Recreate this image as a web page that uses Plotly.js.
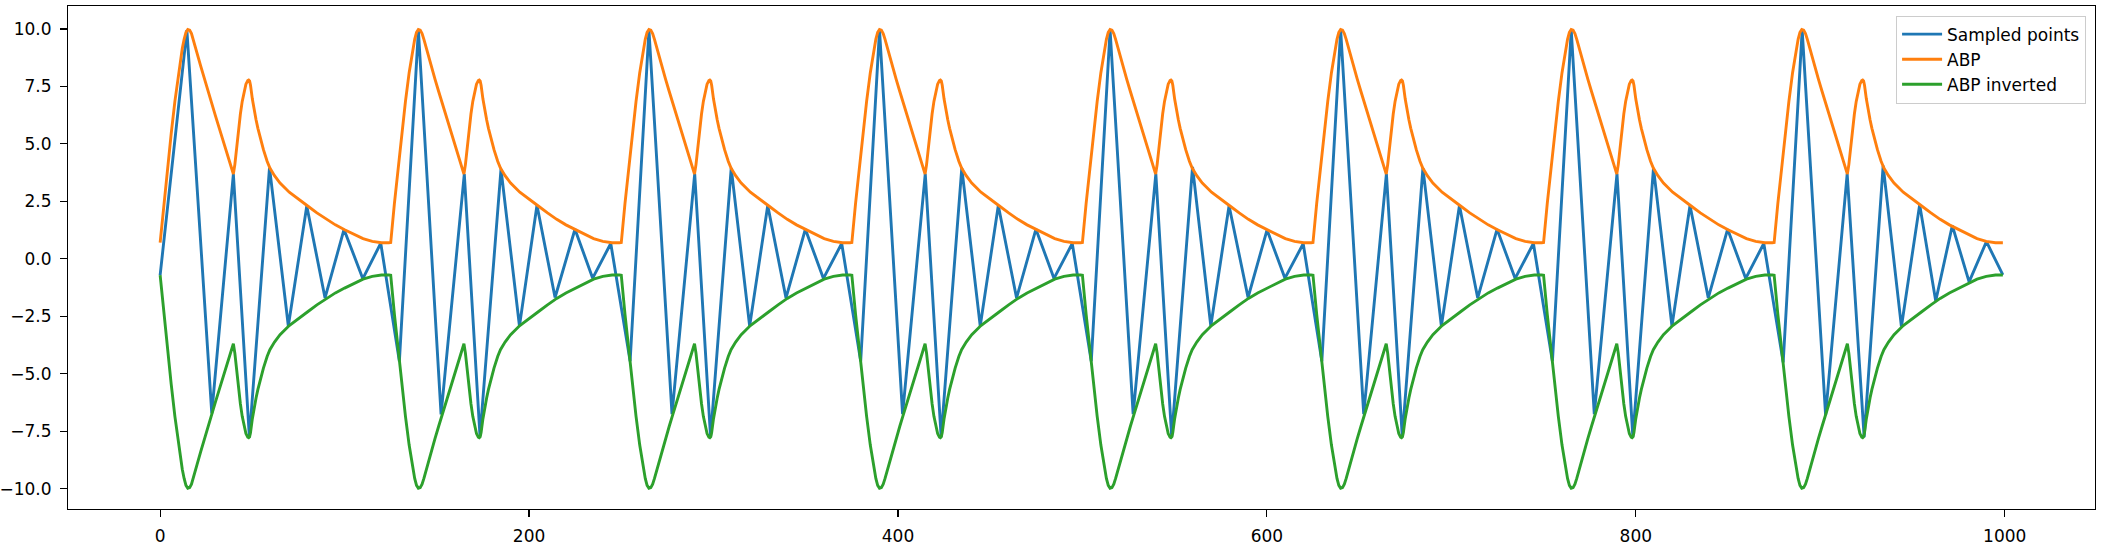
<!DOCTYPE html>
<html>
<head>
<meta charset="utf-8">
<script src="https://cdn.plot.ly/plotly-3.0.1.min.js"></script>
<style>html,body{margin:0;padding:0;background:#fff}</style>
</head>
<body>
<div id="chart" style="width:2104px;height:550px"></div>
<script>
// one heartbeat of the ABP curve: offset inside the beat -> value
var beatOffsets = [0, 2, 4, 6, 8, 10, 11, 12, 13, 14, 15, 16, 17, 18, 19, 20, 22, 24, 26, 28, 30, 32, 34, 36, 38, 39.7,
  40.5, 41.5, 42.5, 43.5, 44.5, 45.5, 46.5, 47.5, 48, 48.5, 49, 50, 51, 52, 53, 54, 56, 58, 59.5,
  62, 65, 70, 75, 80, 85, 90, 95, 100, 105, 110, 115, 120, 124];
var abpBeat = [0.71, 2.4, 3.95, 5.45, 6.85, 8.1, 8.65, 9.15, 9.55, 9.85, 9.98, 9.95, 9.8, 9.55, 9.25, 8.95, 8.38, 7.82, 7.28, 6.75, 6.22, 5.7, 5.17, 4.65, 4.12, 3.69,
  4.1, 4.9, 5.7, 6.3, 6.85, 7.3, 7.6, 7.76, 7.78, 7.74, 7.55, 6.95, 6.45, 6.05, 5.68, 5.35, 4.75, 4.25, 3.95,
  3.62, 3.3, 2.9, 2.58, 2.3, 2.0, 1.72, 1.48, 1.27, 1.06, 0.88, 0.76, 0.70, 0.70];
var abpInvBeat = [-0.71, -2.4, -3.95, -5.45, -6.85, -8.1, -8.65, -9.15, -9.55, -9.85, -9.98, -9.95, -9.8, -9.55, -9.25, -8.95, -8.38, -7.82, -7.28, -6.75, -6.22, -5.7, -5.17, -4.65, -4.12, -3.69,
  -4.1, -4.9, -5.7, -6.3, -6.85, -7.3, -7.6, -7.76, -7.78, -7.74, -7.55, -6.95, -6.45, -6.05, -5.68, -5.35, -4.75, -4.25, -3.95,
  -3.62, -3.3, -2.9, -2.58, -2.3, -2.0, -1.72, -1.48, -1.27, -1.06, -0.88, -0.76, -0.70, -0.70];
// the picture shows the same beat 8 times, starting every 125 samples
var beatStarts = [0, 125, 250, 375, 500, 625, 750, 875];

// sampled points (zigzag between ABP and inverted ABP)
var sampledX = [
  0, 14.5, 28, 39.7, 48.4, 59.3, 69.5, 79.5, 89.4, 99.7, 109.9, 119.6,
  129.7, 140, 152.3, 164.9, 173.4, 184.8, 194.8, 204.3, 214.1, 224.9, 234.5, 244.3,
  254.8, 265, 277.5, 289.8, 298.4, 309.6, 319.6, 329.4, 339.3, 349.8, 359.6, 369.5,
  379.8, 390, 402.5, 414.8, 423.4, 434.6, 444.6, 454.4, 464.3, 474.8, 484.6, 494.5,
  504.8, 515, 527.5, 539.8, 548.4, 559.7, 569.6, 579.5, 589.8, 600.1, 609.8, 619.7,
  629.8, 640, 652.5, 664.8, 673.4, 684.6, 694.6, 704.4, 714.3, 724.8, 734.6, 744.5,
  754.8, 765, 777.5, 789.8, 798.4, 809.6, 819.6, 829.4, 839.3, 849.8, 859.6, 869.4,
  879.9, 890.2, 902.9, 914.6, 923.8, 934.1, 944, 953.9, 962.6, 971.6, 980.7, 990.1, 999
];
var sampledY = [
  -0.71, 9.95, -6.72, 3.69, -7.77, 3.97, -2.92, 2.3, -1.7, 1.28, -0.86, 0.68,
  -4.45, 9.95, -6.76, 3.69, -7.7, 3.9, -2.92, 2.33, -1.68, 1.29, -0.84, 0.67,
  -4.45, 9.95, -6.75, 3.7, -7.74, 3.95, -2.92, 2.32, -1.7, 1.29, -0.85, 0.67,
  -4.45, 9.95, -6.75, 3.7, -7.74, 3.95, -2.92, 2.32, -1.7, 1.29, -0.85, 0.67,
  -4.45, 9.95, -6.75, 3.7, -7.74, 4.0, -2.92, 2.31, -1.68, 1.26, -0.84, 0.66,
  -4.45, 9.95, -6.75, 3.7, -7.74, 3.95, -2.92, 2.32, -1.7, 1.29, -0.85, 0.67,
  -4.45, 9.95, -6.75, 3.7, -7.74, 3.95, -2.92, 2.32, -1.7, 1.29, -0.85, 0.67,
  -4.5, 9.95, -6.8, 3.7, -7.75, 4.05, -2.95, 2.36, -1.83, 1.45, -1.0, 0.75, -0.70
];

var xTickVals = [0, 200, 400, 600, 800, 1000];
var xTickText = ['0', '200', '400', '600', '800', '1000'];
var yTickVals = [-10, -7.5, -5, -2.5, 0, 2.5, 5, 7.5, 10];
var yTickText = ['\u221210.0', '\u22127.5', '\u22125.0', '\u22122.5', '0.0', '2.5', '5.0', '7.5', '10.0'];

// lay the beat out along the time axis
var abpX = [], abpY = [], invY = [];
beatStarts.forEach(function (s) {
  beatOffsets.forEach(function (o, i) {
    abpX.push(s + o);
    abpY.push(abpBeat[i]);
    invY.push(abpInvBeat[i]);
  });
});

var sampled = {
  x: sampledX, y: sampledY, name: 'Sampled points', type: 'scatter', mode: 'lines',
  line: {color: '#1f77b4', width: 2.9}
};
var abp = {
  x: abpX, y: abpY, name: 'ABP', type: 'scatter', mode: 'lines',
  line: {color: '#ff7f0e', width: 2.9}
};
var abpInv = {
  x: abpX, y: invY, name: 'ABP inverted', type: 'scatter', mode: 'lines',
  line: {color: '#2ca02c', width: 2.9}
};

var axisStyle = {
  ticks: 'outside', ticklen: 7, tickwidth: 1.1, tickcolor: '#000',
  showline: true, linecolor: '#000', linewidth: 1.1, mirror: true,
  showgrid: false, zeroline: false
};

var layout = {
  width: 2104,
  height: 550,
  margin: {l: 68, r: 9, t: 6, b: 41},
  paper_bgcolor: '#fff',
  plot_bgcolor: '#fff',
  font: {family: 'DejaVu Sans', size: 17, color: '#000'},
  showlegend: true,
  legend: {
    x: 0.9956, y: 0.981, xanchor: 'right', yanchor: 'top',
    bgcolor: 'rgba(255,255,255,0.8)', bordercolor: '#cccccc', borderwidth: 1,
    itemwidth: 40, font: {size: 17}
  },
  xaxis: Object.assign({range: [-49.95, 1048.95], tickvals: xTickVals, ticktext: xTickText, ticklabelstandoff: 4}, axisStyle),
  yaxis: Object.assign({range: [-10.88, 11.0], tickvals: yTickVals, ticktext: yTickText, ticklabelstandoff: 5}, axisStyle)
};

Plotly.newPlot('chart', [sampled, abp, abpInv], layout, {displayModeBar: false, staticPlot: true});
</script>
</body>
</html>
